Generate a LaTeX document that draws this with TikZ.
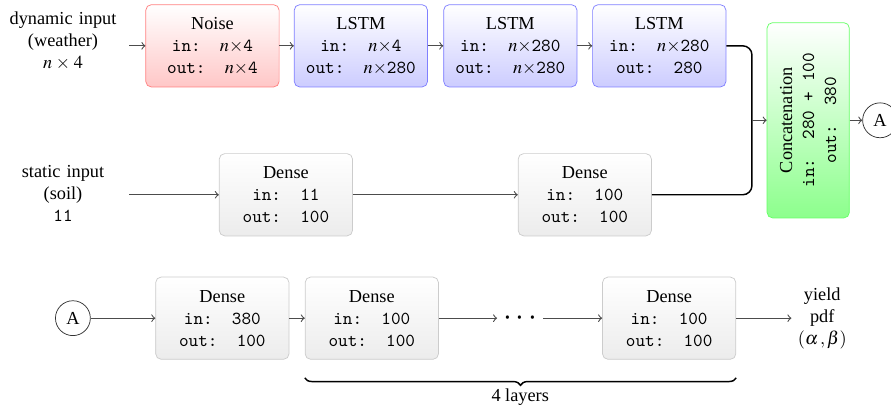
\documentclass[tikz,border=0pt]{standalone}
\usepackage{mathptmx}
\usepackage[no-math]{fontspec}
\setmainfont{Liberation Serif}
\usetikzlibrary{calc,decorations.pathreplacing}
\newcommand{\layertext}[3]{#1\\\texttt{in:\ \ #2}\\\texttt{out:\ \ #3}}

\begin{document}
\begin{tikzpicture}[
    layer/.style={draw, rounded corners=3pt, align=center, inner sep=2pt,
        minimum width=2.56cm, minimum height=1.58cm},
    noise/.style={layer, draw=red!50, top color=white, bottom color=red!22},
    lstm/.style={layer, draw=blue!50, top color=white, bottom color=blue!20},
    dense/.style={layer, draw=gray!40, top color=white, bottom color=gray!15},
    concat/.style={layer, draw=green!60, top color=white, bottom color=green!45,
        rotate=90, minimum width=3.75cm},
    ioput/.style={align=center, text width=2.3cm},
    link/.style={circle, draw, black!80, text=black, minimum size=0.67cm, inner sep=0pt},
    arr/.style={->, semithick, black!70},
    merge/.style={thick, rounded corners=5pt}]
    \useasboundingbox (0,0) rectangle (17.11,-7.856);

    \node[ioput] (dyn) at (1.21,-0.79) {dynamic input\\(weather)\\$n\times 4$};
    \node[noise] (noise) at (4.08,-0.88) {\layertext{Noise}{$n$$\times$4}{$n$$\times$4}};
    \node[lstm] (lstma) at (6.93,-0.88) {\layertext{LSTM}{$n$$\times$4}{$n$$\times$280}};
    \node[lstm] (lstmb) at (9.80,-0.88) {\layertext{LSTM}{$n$$\times$280}{$n$$\times$280}};
    \node[lstm] (lstmc) at (12.66,-0.88) {\layertext{LSTM}{$n$$\times$280}{280}};
    \path[arr] (dyn.east |- noise.west) edge (noise) (noise) edge (lstma)
        (lstma) edge (lstmb) (lstmb) edge (lstmc);

    \node[ioput] (stat) at (1.21,-3.71) {static input\\(soil)\\\texttt{11}};
    \node[dense] (densea) at (5.49,-3.74) {\layertext{Dense}{11}{100}};
    \node[dense] (denseb) at (11.23,-3.74) {\layertext{Dense}{100}{100}};
    \path[arr] (stat.east |- densea.west) edge (densea) (densea) edge (denseb);

    \node[concat] (cat) at (15.52,-2.31) {Concatenation\\\texttt{in:\ \ 280 + 100}\\\texttt{out:\ \ 380}};
    \node[link] (linkr) at (16.90,-2.31) {A};
    \coordinate (join) at (14.44,-2.31);
    \draw[merge] (lstmc) -| (join) |- (denseb);
    \path[arr] (join) edge (cat) (cat) edge (linkr);

    \node[link] (linkl) at (1.40,-6.11) {A};
    \node[dense] (fca) at (4.27,-6.11) {\layertext{Dense}{380}{100}};
    \node[dense] (fcb) at (7.14,-6.11) {\layertext{Dense}{100}{100}};
    \node (dots) at (9.99,-6.11) {\LARGE$\cdots$};
    \node[dense] (fcc) at (12.85,-6.11) {\layertext{Dense}{100}{100}};
    \node[align=center] (yield) at (15.79,-6.11) {yield\\pdf\\$(\alpha\,,\beta)$};
    \path[arr] (linkl) edge (fca) (fca) edge (fcb) (fcb) edge (dots)
        (dots) edge (fcc) (fcc) edge (yield);

    \draw[thick, decorate, decoration={brace, mirror, amplitude=4pt}]
        ($(fcb.south west)+(0,-0.35)$) -- ($(fcc.south east)+(0,-0.35)$);
    \node (nlayers) at (9.99,-7.63) {4 layers};
\end{tikzpicture}
\end{document}
